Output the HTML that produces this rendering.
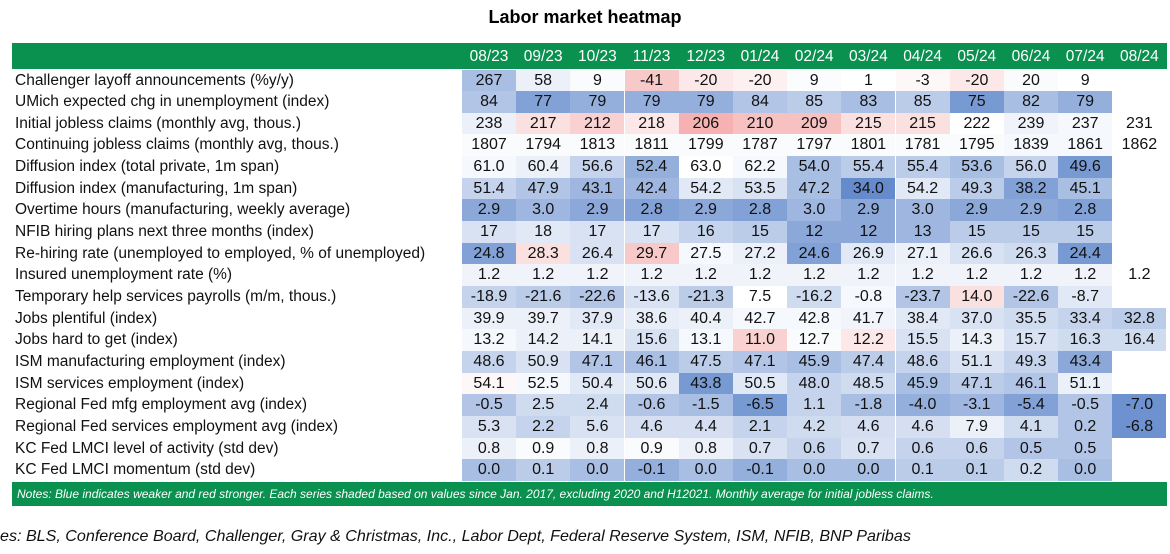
<!DOCTYPE html>
<html><head><meta charset="utf-8"><style>
body{margin:0;width:1170px;height:554px;background:#fff;font-family:"Liberation Sans",sans-serif;position:relative;overflow:hidden}
.abs{position:absolute}
#title{left:0;width:1170px;top:7px;text-align:center;font-weight:bold;font-size:18px;color:#000}
#hdr{left:12px;top:43px;width:1155px;height:26px;background:#0a9150}
.hl{position:absolute;top:5px;color:#fff;font-size:15.5px;width:54px;text-align:center}
.lbl{position:absolute;left:15px;font-size:15.5px;color:#111;white-space:nowrap;height:22px;line-height:22px}
.cell{position:absolute;width:54px;height:22px;line-height:22px;text-align:center;font-size:16px;color:#111}
#notes{left:12px;top:482px;width:1155px;height:24px;background:#0a9150;color:#fff;font-style:italic;font-size:12px;line-height:24px;padding-left:5px;box-sizing:border-box}
#src{left:0;top:527px;font-style:italic;font-size:16.1px;color:#111;white-space:nowrap}
</style></head><body>
<div id="title" class="abs">Labor market heatmap</div>
<div id="hdr" class="abs"></div>
<div id="grid"></div>
<div id="notes" class="abs">Notes: Blue indicates weaker and red stronger. Each series shaded based on values since Jan. 2017, excluding 2020 and H12021. Monthly average for initial jobless claims.</div>
<div id="src" class="abs">es: BLS, Conference Board, Challenger, Gray &amp; Christmas, Inc., Labor Dept, Federal Reserve System, ISM, NFIB, BNP Paribas</div>
<script>
const months=["08/23","09/23","10/23","11/23","12/23","01/24","02/24","03/24","04/24","05/24","06/24","07/24","08/24"];
const series=["Challenger layoff announcements (%y/y)","UMich expected chg in unemployment (index)","Initial jobless claims (monthly avg, thous.)","Continuing jobless claims (monthly avg, thous.)","Diffusion index (total private, 1m span)","Diffusion index (manufacturing, 1m span)","Overtime hours (manufacturing, weekly average)","NFIB hiring plans next three months (index)","Re-hiring rate (unemployed to employed, % of unemployed)","Insured unemployment rate (%)","Temporary help services payrolls (m/m, thous.)","Jobs plentiful (index)","Jobs hard to get (index)","ISM manufacturing employment (index)","ISM services employment (index)","Regional Fed mfg employment avg (index)","Regional Fed services employment avg (index)","KC Fed LMCI level of activity (std dev)","KC Fed LMCI momentum (std dev)"];
const values=[
["267","58","9","-41","-20","-20","9","1","-3","-20","20","9",""],
["84","77","79","79","79","84","85","83","85","75","82","79",""],
["238","217","212","218","206","210","209","215","215","222","239","237","231"],
["1807","1794","1813","1811","1799","1787","1797","1801","1781","1795","1839","1861","1862"],
["61.0","60.4","56.6","52.4","63.0","62.2","54.0","55.4","55.4","53.6","56.0","49.6",""],
["51.4","47.9","43.1","42.4","54.2","53.5","47.2","34.0","54.2","49.3","38.2","45.1",""],
["2.9","3.0","2.9","2.8","2.9","2.8","3.0","2.9","3.0","2.9","2.9","2.8",""],
["17","18","17","17","16","15","12","12","13","15","15","15",""],
["24.8","28.3","26.4","29.7","27.5","27.2","24.6","26.9","27.1","26.6","26.3","24.4",""],
["1.2","1.2","1.2","1.2","1.2","1.2","1.2","1.2","1.2","1.2","1.2","1.2","1.2"],
["-18.9","-21.6","-22.6","-13.6","-21.3","7.5","-16.2","-0.8","-23.7","14.0","-22.6","-8.7",""],
["39.9","39.7","37.9","38.6","40.4","42.7","42.8","41.7","38.4","37.0","35.5","33.4","32.8"],
["13.2","14.2","14.1","15.6","13.1","11.0","12.7","12.2","15.5","14.3","15.7","16.3","16.4"],
["48.6","50.9","47.1","46.1","47.5","47.1","45.9","47.4","48.6","51.1","49.3","43.4",""],
["54.1","52.5","50.4","50.6","43.8","50.5","48.0","48.5","45.9","47.1","46.1","51.1",""],
["-0.5","2.5","2.4","-0.6","-1.5","-6.5","1.1","-1.8","-4.0","-3.1","-5.4","-0.5","-7.0"],
["5.3","2.2","5.6","4.6","4.4","2.1","4.2","4.6","4.6","7.9","4.1","0.2","-6.8"],
["0.8","0.9","0.8","0.9","0.8","0.7","0.6","0.7","0.6","0.6","0.5","0.5",""],
["0.0","0.1","0.0","-0.1","0.0","-0.1","0.0","0.0","0.1","0.1","0.2","0.0",""]];
// shade: + = blue (weaker), - = red (stronger)
const shades=[
[.45,.1,.03,-.35,-.15,-.1,.02,0,-.05,-.15,.03,0,0],
[.4,.65,.55,.55,.55,.4,.35,.45,.35,.7,.45,.55,0],
[.1,-.2,-.3,-.15,-.5,-.4,-.4,-.2,-.2,0,.08,.05,0],
[.03,.03,.03,.03,.03,.03,.03,.03,.03,.03,.05,.05,0],
[.05,.1,.3,.55,0,.05,.45,.35,.35,.45,.3,.7,0],
[.3,.4,.5,.5,.15,.2,.45,.8,.15,.35,.65,.45,0],
[.6,.5,.6,.65,.6,.65,.5,.6,.5,.6,.6,.65,0],
[.2,.15,.2,.2,.3,.35,.6,.6,.5,.35,.35,.35,0],
[.65,-.2,.2,-.35,.05,.1,.65,.15,.1,.2,.25,.7,0],
[.08,.08,.08,.08,.08,.08,.08,.08,.08,.08,.08,.08,0],
[.3,.35,.4,.2,.35,0,.25,.05,.4,-.2,.4,.15,0],
[.1,.1,.15,.12,.1,.05,.05,.07,.15,.2,.25,.3,.35],
[.05,.1,.1,.2,.05,-.3,.03,-.15,.2,.1,.2,.25,.25],
[.3,.2,.4,.45,.35,.4,.45,.35,.3,.2,.3,.6,0],
[-.05,.05,.15,.15,.7,.15,.3,.25,.45,.35,.4,.1,0],
[.4,.25,.25,.4,.45,.7,.3,.45,.55,.5,.65,.4,.75],
[.2,.3,.2,.22,.22,.3,.25,.22,.22,.1,.25,.4,.75],
[.1,.03,.1,.03,.1,.2,.3,.2,.3,.3,.4,.4,0],
[.45,.35,.45,.55,.45,.55,.45,.45,.35,.35,.25,.45,0]];
const X0=462,CW=54.2,Y0=69.5,RH=21.65;
function colX(i){return X0+i*CW;}
function rowY(i){return Y0+i*RH;}
function shadeColor(s){
  const mix=(a,b,t)=>Math.round(a+(b-a)*t);
  if(s>=0){return `rgb(${mix(255,62,s)},${mix(255,110,s)},${mix(255,192,s)})`;}
  const t=-s;return `rgb(${mix(255,236,t)},${mix(255,100,t)},${mix(255,100,t)})`;
}
const hdr=document.getElementById('hdr'),grid=document.getElementById('grid');
months.forEach((m,i)=>{
  const d=document.createElement('div');d.className='hl';
  
  
  d.style.left=(colX(i)-12)+'px';d.textContent=m;hdr.appendChild(d);
});
series.forEach((s,r)=>{
  const l=document.createElement('div');l.className='lbl';
  
  
  l.style.top=rowY(r)+'px';l.textContent=s;grid.appendChild(l);
  values[r].forEach((v,c)=>{
    if(v==='')return;
    const d=document.createElement('div');d.className='cell';
    
    
    d.style.left=colX(c)+'px';d.style.top=rowY(r)+'px';
    d.style.height=(RH+0.5)+'px';
    d.style.background=shadeColor(shades[r][c]);d.textContent=v;grid.appendChild(d);
  });
});
</script>
</body></html>
